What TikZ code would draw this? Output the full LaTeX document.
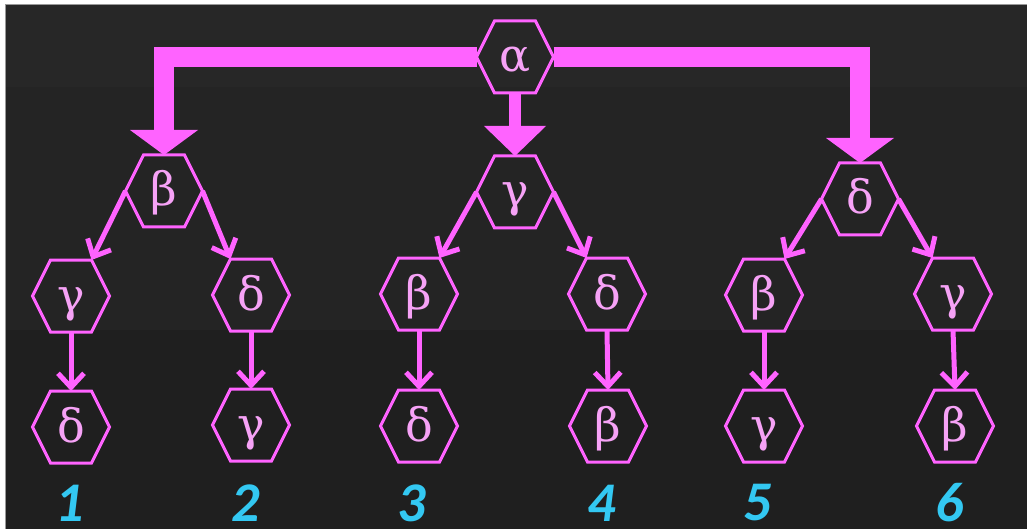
\documentclass[tikz,border=0pt]{standalone}
\usepackage{fontspec}
\newfontfamily\grk{DejaVu Serif}
\newfontfamily\numf{Carlito}
\usetikzlibrary{arrows.meta,calc}
\definecolor{mag}{HTML}{FF63FF}
\definecolor{pinktxt}{HTML}{F6A2F6}
\definecolor{cyanl}{HTML}{33C8F2}
\definecolor{bgA}{HTML}{272727}
\definecolor{bgB}{HTML}{242424}
\definecolor{bgC}{HTML}{1F1F1F}
\tikzset{
  hexbox/.style={rectangle, minimum width=77pt, minimum height=72pt, inner sep=0pt, outer sep=0pt,
    text height=30pt, text depth=0pt, font=\grk\fontsize{46}{46}\selectfont, text=pinktxt},
  hexline/.style={draw=mag, line width=3pt, line join=miter},
  bigarrow/.style={draw=mag, line width=20pt, line join=miter, -{Triangle[width=68pt,length=25pt,line width=0pt]}},
  midarrow/.style={draw=mag, line width=12pt, -{Triangle[width=62pt,length=30pt,line width=0pt]}},
  smarrow/.style={draw=mag, line width=5pt, -{Straight Barb[length=14pt,width=26pt]}},
  numlab/.style={font=\numf\bfseries\itshape\fontsize{56}{56}\selectfont, text=cyanl, inner sep=0pt}
}
\newcommand\hexnode[3]{%
  \node[hexbox] (#1) at (#2) {#3};
  \draw[hexline] (#1.west) -- ($(#1.north west)+(18pt,0pt)$) -- ($(#1.north east)+(-18pt,0pt)$)
    -- (#1.east) -- ($(#1.south east)+(-18pt,0pt)$) -- ($(#1.south west)+(18pt,0pt)$) -- cycle;}
\begin{document}
\begin{tikzpicture}[x=1pt,y=-1pt]
\useasboundingbox (0,0) rectangle (1027,529);
\fill[white] (0,0) rectangle (1027,529);
\fill[bgA] (5,4) rectangle (1027,87);
\fill[bgB] (5,87) rectangle (1027,330);
\fill[bgC] (5,330) rectangle (1027,529);
\draw[gray!80, line width=1pt] (5,529) -- (5,4.5) -- (1027,4.5);

% nodes
\hexnode{a}{515,57}{α}
\hexnode{bL}{164,191}{β}
\hexnode{gM}{515,192}{γ}
\hexnode{dR}{860,199}{δ}

\hexnode{g1}{71,296}{γ}
\hexnode{d2}{251,295}{δ}
\hexnode{b3}{419,294}{β}
\hexnode{d4}{607,294}{δ}
\hexnode{b5}{764,295}{β}
\hexnode{g6}{953,294}{γ}

\hexnode{d1}{71,427}{δ}
\hexnode{g2}{251,425}{γ}
\hexnode{d3}{419,426}{δ}
\hexnode{b4}{608,426}{β}
\hexnode{g5}{764,426}{γ}
\hexnode{b6}{955,426}{β}

% thick arrows
\draw[bigarrow] (a.west) -| (bL.north);
\draw[bigarrow] (a.east) -| (dR.north);
\draw[midarrow] (a.south) -- (gM.north);

% diagonal arrows
\draw[smarrow] (bL.west) -- ($(g1.north east)+(-18pt,0pt)$);
\draw[smarrow] (bL.east) -- ($(d2.north west)+(18pt,0pt)$);
\draw[smarrow] (gM.west) -- ($(b3.north east)+(-18pt,0pt)$);
\draw[smarrow] (gM.east) -- ($(d4.north west)+(18pt,0pt)$);
\draw[smarrow] (dR.west) -- ($(b5.north east)+(-18pt,0pt)$);
\draw[smarrow] (dR.east) -- ($(g6.north west)+(18pt,0pt)$);

% vertical arrows
\draw[smarrow] (g1.south) -- (d1.north);
\draw[smarrow] (d2.south) -- (g2.north);
\draw[smarrow] (b3.south) -- (d3.north);
\draw[smarrow] (d4.south) -- (b4.north);
\draw[smarrow] (b5.south) -- (g5.north);
\draw[smarrow] (g6.south) -- (b6.north);

% numbers
\node[numlab] (n1) at (70,503) {1};
\node[numlab] (n2) at (246,503) {2};
\node[numlab] (n3) at (412,503) {3};
\node[numlab] (n4) at (602,503) {4};
\node[numlab] (n5) at (758,503) {5};
\node[numlab] (n6) at (950,503) {6};
\end{tikzpicture}
\end{document}
